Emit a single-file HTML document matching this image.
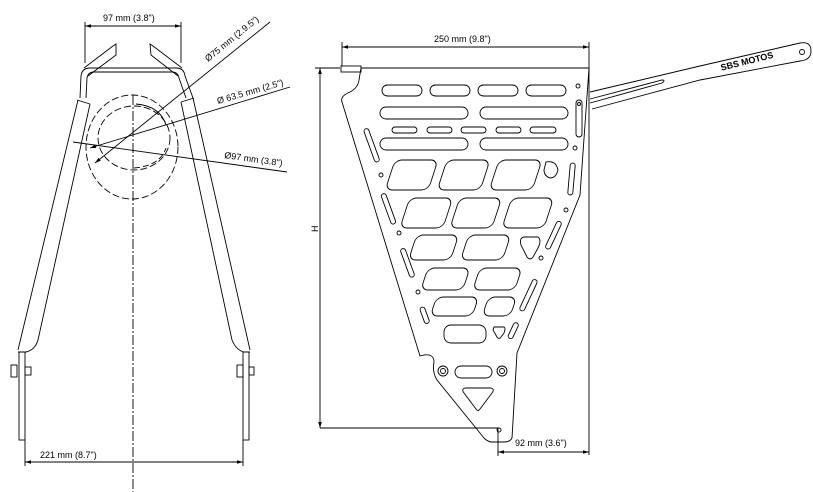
<!DOCTYPE html>
<html><head><meta charset="utf-8"><style>
html,body{margin:0;padding:0;background:#fff;}
svg{display:block;}
text{font-family:"Liberation Sans",sans-serif;font-size:9px;fill:#000;}
</style></head><body>
<svg width="813" height="492" viewBox="0 0 813 492" xmlns="http://www.w3.org/2000/svg">
<defs>
<marker id="a" viewBox="0 0 10 6" refX="10" refY="3" markerWidth="8" markerHeight="4" orient="auto-start-reverse"><path d="M0,0L10,3L0,6z" fill="#000"/></marker>
</defs>
<g fill="none" stroke="#000" stroke-width="0.9">
<!-- LEFT VIEW -->
<line x1="85" y1="26" x2="181" y2="26" marker-start="url(#a)" marker-end="url(#a)"/>
<line x1="85" y1="22" x2="85" y2="63"/><line x1="181" y1="22" x2="181" y2="63"/>
<path d="M80,98 L81,76 Q82,68 90,68 L176,68 Q184,68 185,76 L193,98"/>
<path d="M86,98 L87,78 Q88,72 94,72 L172,72 Q178,72 179,78 L186,98"/>
<path d="M84,68 L113,46 L116,44 L116,55 L88,76"/>
<path d="M182,68 L153,46 L150,44 L151,55 L178,76"/>
<path d="M78,100 L18,350"/><path d="M90,104 L38,340 Q35,350 26,352 L18,352"/>
<path d="M181,102 L232,340 Q236,350 244,352 L250,352"/><path d="M193,98 L250,350"/>
<path d="M77,100 L90,104 M181,102 L194,98"/>
<rect x="19" y="352" width="6" height="88"/><rect x="243" y="352" width="6" height="88"/>
<rect x="11" y="365" width="6" height="12"/><rect x="25" y="367" width="6" height="8"/>
<rect x="237" y="365" width="6" height="12"/><rect x="249" y="367" width="5" height="8"/>
<line x1="25" y1="440" x2="25" y2="466"/><line x1="243" y1="440" x2="243" y2="466"/>
<line x1="25" y1="462" x2="243" y2="462" marker-start="url(#a)" marker-end="url(#a)"/>
<line x1="133" y1="95" x2="133" y2="492" stroke-dasharray="10,2,2,2"/>
<ellipse cx="132" cy="147" rx="46" ry="52" stroke-dasharray="7,3"/>
<ellipse cx="134" cy="138" rx="36" ry="32" stroke-dasharray="7,3"/>
<path d="M136,104 Q160,106 166,125" />
<path d="M134,168 Q160,166 166,148" stroke-dasharray="6,3"/>
<line x1="95" y1="163" x2="270" y2="22" marker-start="url(#a)"/>
<line x1="90" y1="148" x2="290" y2="87" marker-start="url(#a)"/>
<line x1="73" y1="142" x2="287" y2="172"/>
<!-- RIGHT VIEW -->
<line x1="342" y1="47" x2="589" y2="47" marker-start="url(#a)" marker-end="url(#a)"/>
<line x1="342" y1="42" x2="342" y2="66"/><line x1="589" y1="42" x2="589" y2="455"/>
<line x1="315" y1="68" x2="340" y2="68"/><line x1="320" y1="428" x2="498" y2="428"/>
<line x1="320" y1="68" x2="320" y2="428" marker-start="url(#a)" marker-end="url(#a)"/>
<line x1="498" y1="428" x2="498" y2="456"/>
<line x1="498" y1="452" x2="589" y2="452" marker-start="url(#a)" marker-end="url(#a)"/>
<rect x="341" y="66" width="20" height="6"/>
<path d="M361,68 L589,68 L580,195 L517,353 L512,438 Q510,442 504,442 L492,442 Q488,442 484,438 L437,380 Q432,372 434,362 Q434,352 420,356 L342,102 Q340,96 350,92 Q358,88 359,80 L361,68"/>
<path d="M590,92 L700,66 L800,43 Q811,41 811,51 Q811,60 800,61 L700,80 L592,109"/>
<path d="M590,99 L662,80 Q666,80 662,83 L590,103"/>
<circle cx="802" cy="52" r="2.5"/>
<g>
<rect x="382" y="85" width="40" height="11" rx="5.5"/><rect x="430" y="85" width="40" height="11" rx="5.5"/>
<rect x="478" y="85" width="40" height="11" rx="5.5"/><rect x="526" y="85" width="40" height="11" rx="5.5"/>
<rect x="380" y="107" width="88" height="12" rx="6"/><rect x="480" y="107" width="88" height="12" rx="6"/>
<rect x="392" y="127" width="25" height="6" rx="3"/><rect x="427" y="127" width="25" height="6" rx="3"/>
<rect x="461" y="127" width="25" height="6" rx="3"/><rect x="496" y="127" width="25" height="6" rx="3"/>
<rect x="530" y="127" width="26" height="6" rx="3"/>
<rect x="380" y="138" width="88" height="12" rx="6"/><rect x="480" y="138" width="88" height="12" rx="6"/>
</g>
<g transform="skewX(-18)">
<g transform="translate(57,0)">
<rect x="390" y="160" width="43" height="30" rx="7"/><rect x="442" y="160" width="43" height="30" rx="7"/><rect x="494" y="160" width="43" height="30" rx="7"/>
</g>
<g transform="translate(69,0)">
<rect x="405" y="198" width="43" height="30" rx="7"/><rect x="455" y="198" width="42" height="30" rx="7"/><rect x="507" y="198" width="42" height="30" rx="7"/>
</g>
<g transform="translate(79,0)">
<rect x="414" y="235" width="42" height="25" rx="7"/><rect x="466" y="235" width="42" height="25" rx="7"/>
</g>
<g transform="translate(90,0)">
<rect x="425" y="268" width="42" height="22" rx="7"/><rect x="477" y="268" width="42" height="22" rx="7"/>
</g>
<g transform="translate(99,0)">
<rect x="434" y="297" width="42" height="19" rx="7"/><rect x="486" y="297" width="28" height="19" rx="7"/>
</g>
</g>
<path d="M524,237 L538,237 Q542,240 538,248 L533,257 Q530,261 527,257 L521,245 Q519,238 524,237z"/>
<path d="M546,162 Q556,160 558,170 Q556,178 550,178 Q544,176 544,170z"/>
<rect x="444" y="325" width="42" height="18" rx="7"/>
<path d="M494,327 L504,327 Q506,328 504,333 L501,337 Q499,340 497,337 L493,330z"/>
<circle cx="443" cy="371" r="5"/><circle cx="443" cy="371" r="2.5"/>
<circle cx="502" cy="371" r="5"/><circle cx="502" cy="371" r="2.5"/>
<rect x="455" y="366" width="37" height="12" rx="6"/>
<path d="M465,388 L491,388 Q495,389 492,393 L480,409 Q478,412 476,409 L464,393 Q461,389 465,388z"/>
<circle cx="499" cy="430" r="2"/>
<circle cx="578" cy="86" r="2"/><circle cx="575" cy="148" r="2"/><circle cx="381" cy="175" r="2"/>
<circle cx="566" cy="210" r="2"/><circle cx="399" cy="233" r="2"/><circle cx="541" cy="258" r="2"/>
<circle cx="418" cy="292" r="2"/>
<rect x="576" y="100" width="6" height="37" rx="3"/><circle cx="579" cy="104" r="1.5"/>
<rect x="569" y="163" width="5" height="32" rx="2.5" transform="rotate(5 571 179)"/>
<rect x="369" y="128" width="5" height="35" rx="2.5" transform="rotate(-20 371 145)"/>
<rect x="386" y="193" width="5" height="32" rx="2.5" transform="rotate(-20 388 209)"/>
<rect x="405" y="248" width="5" height="30" rx="2.5" transform="rotate(-20 407 263)"/>
<rect x="422" y="307" width="5" height="17" rx="2.5" transform="rotate(-20 424 315)"/>
<rect x="551" y="220" width="5" height="30" rx="2.5" transform="rotate(25 553 235)"/>
<rect x="526" y="278" width="5" height="34" rx="2.5" transform="rotate(25 528 295)"/>
<rect x="511" y="322" width="5" height="17" rx="2.5" transform="rotate(25 513 330)"/>
</g>
<text x="720" y="66" transform="rotate(-14 740 62)" font-size="6" font-weight="bold">SBS MOTOS</text>
<text x="103" y="21">97 mm (3.8")</text>
<text x="40" y="458">221 mm (8.7")</text>
<text x="208" y="62" transform="rotate(-39 208 62)">Ø75 mm (2.9.5")</text>
<text x="218" y="104" transform="rotate(-16 218 104)">Ø 63.5 mm (2.5")</text>
<text x="224" y="158" transform="rotate(8 224 158)">Ø97 mm (3.8")</text>
<text x="434" y="42">250 mm (9.8")</text>
<text x="515" y="446">92 mm (3.6")</text>
<text x="318" y="232" transform="rotate(-90 318 232)">H</text>
</svg>
</body></html>
